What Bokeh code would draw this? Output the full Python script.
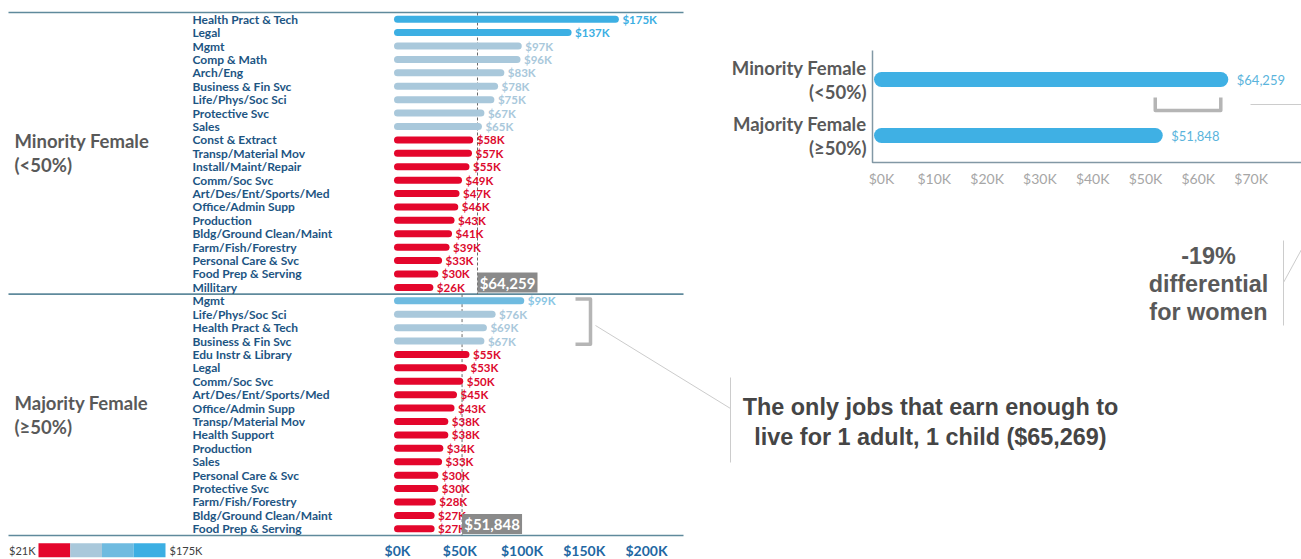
from bokeh.plotting import figure
from bokeh.models import Range1d, ColumnDataSource
from bokeh.transform import linear_cmap
from bokeh.core.properties import value
from bokeh.embed import file_html
from bokeh.resources import INLINE

# ---------------- data ----------------
group_names = ["Minority Female", "Majority Female"]
group_subs = ["(<50%)", "(\u226550%)"]

min_cats = ["Health Pract & Tech", "Legal", "Mgmt", "Comp & Math", "Arch/Eng",
            "Business & Fin Svc", "Life/Phys/Soc Sci", "Protective Svc", "Sales",
            "Const & Extract", "Transp/Material Mov", "Install/Maint/Repair",
            "Comm/Soc Svc", "Art/Des/Ent/Sports/Med", "Office/Admin Supp",
            "Production", "Bldg/Ground Clean/Maint", "Farm/Fish/Forestry",
            "Personal Care & Svc", "Food Prep & Serving", "Millitary"]
min_vals = [175, 137, 97, 96, 83, 78, 75, 67, 65, 58, 57, 55, 49, 47, 46, 43, 41, 39, 33, 30, 26]

maj_cats = ["Mgmt", "Life/Phys/Soc Sci", "Health Pract & Tech", "Business & Fin Svc",
            "Edu Instr & Library", "Legal", "Comm/Soc Svc", "Art/Des/Ent/Sports/Med",
            "Office/Admin Supp", "Transp/Material Mov", "Health Support", "Production",
            "Sales", "Personal Care & Svc", "Protective Svc", "Farm/Fish/Forestry",
            "Bldg/Ground Clean/Maint", "Food Prep & Serving"]
maj_vals = [99, 76, 69, 67, 55, 53, 50, 45, 43, 38, 38, 34, 33, 30, 30, 28, 27, 27]

group_avgs = [64259, 51848]          # dollars
living_wage = 65269                  # 1 adult, 1 child

left_ticks = [0, 50, 100, 150, 200]
left_tick_labels = ["$0K", "$50K", "$100K", "$150K", "$200K"]
right_ticks = [0, 10, 20, 30, 40, 50, 60, 70]
right_tick_labels = ["$0K", "$10K", "$20K", "$30K", "$40K", "$50K", "$60K", "$70K"]
legend_low, legend_high = 21, 175

# ---------------- styling / layout ----------------
W, H = 1301, 559
L_ZERO, L_SCALE = 397.0, 1.245      # px of $0 and px per $1K, left chart
ROW, TOP = 13.41, 12.0              # row pitch and top line, left chart
R_ZERO, R_SCALE = 881.0, 5.28       # right chart
R_BAND, R_TOP = 56.0, 51.0

BAR_PAL = ["#e4062c", "#a9c8db", "#6fbbe0", "#3cafe3"]
TXT_PAL = ["#dc0a2e", "#a9c8db", "#8ac6e4", "#3cafe3"]
SEP_COLOR = "#5f8a9c"
FONT = value("Lato")
ARIAL = value("Liberation Sans")

p = figure(width=W, height=H, title=None, toolbar_location=None, output_backend="svg",
           x_axis_type=None, y_axis_type=None, min_border=0, outline_line_color=None,
           x_range=Range1d(-L_ZERO / L_SCALE, (W - L_ZERO) / L_SCALE),
           y_range=Range1d((H - TOP) / ROW, -TOP / ROW))
p.extra_x_ranges = {"r": Range1d(-R_ZERO / R_SCALE, (W - R_ZERO) / R_SCALE),
                    "px": Range1d(0, W)}
p.extra_y_ranges = {"ry": Range1d((H - R_TOP) / R_BAND, -R_TOP / R_BAND),
                    "py": Range1d(H, 0)}
p.background_fill_color = "white"
p.border_fill_color = "white"

n_min, n_maj = len(min_cats), len(maj_cats)
n_all = n_min + n_maj
x_left = p.x_range.start

cats = min_cats + maj_cats
vals = min_vals + maj_vals
rows = [i + 0.5 for i in range(n_all)]
src = ColumnDataSource(dict(cat=cats, val=vals, row=rows,
                            label=["${}K".format(v) for v in vals]))

# section separators
bounds = [0, n_min, n_all]
p.segment(x0=[8] * 3, x1=[683] * 3, y0=bounds, y1=bounds, x_range_name="px",
          line_color=SEP_COLOR, line_width=1.6)

# average dashed lines
avg_k = [a / 1000 for a in group_avgs]
p.segment(x0=avg_k, x1=avg_k, y0=[0, n_min], y1=[n_min, n_all],
          line_color="#6a6a6a", line_width=1, line_dash="3 2")

# bars
p.segment(x0=0, y0="row", x1="val", y1="row", source=src, line_width=7, line_cap="round",
          line_color=linear_cmap("val", BAR_PAL, legend_low, legend_high))
p.text(x="val", y="row", text="label", source=src, x_offset=7, text_baseline="middle",
       text_font=FONT, text_font_style="bold", text_font_size="11.5px",
       text_color=linear_cmap("val", TXT_PAL, legend_low, legend_high))

# category labels
p.text(x=x_left, y="row", text="cat", source=src, x_offset=192, text_baseline="middle",
       text_font=FONT, text_font_style="bold", text_font_size="12px", text_color="#1d5583")

# section labels
mids = [n_min / 2, n_min + n_maj / 2]
p.text(x=[x_left] * 2, y=mids, text=group_names, x_offset=14, y_offset=-12,
       text_baseline="middle", text_font=FONT, text_font_style="bold",
       text_font_size="18.5px", text_color="#595959")
p.text(x=[x_left] * 2, y=mids, text=group_subs, x_offset=14, y_offset=12,
       text_baseline="middle", text_font=FONT, text_font_style="bold",
       text_font_size="18.5px", text_color="#595959")

# average call-out boxes
box_w, box_h, box_gap = 60 / L_SCALE, 20 / ROW, 1.6 / ROW
p.quad(left=avg_k, right=[a + box_w for a in avg_k],
       top=[n_min - box_gap - box_h, n_all - box_gap - box_h],
       bottom=[n_min - box_gap, n_all - box_gap],
       fill_color="#8a8a8a", line_color=None)
p.text(x=[a + box_w / 2 for a in avg_k], y=[n_min - box_gap - box_h / 2, n_all - box_gap - box_h / 2],
       text=["${:,}".format(a) for a in group_avgs], text_align="center", text_baseline="middle",
       text_font=FONT, text_font_style="bold", text_font_size="15px", text_color="white")

# left x tick labels
p.text(x=left_ticks, y=[n_all] * len(left_ticks), y_offset=15, text=left_tick_labels,
       text_align="center", text_baseline="middle", text_font=FONT, text_font_style="bold",
       text_font_size="14px", text_color="#1f68a3")

# colour legend
seg = (165 - 38) / len(BAR_PAL)
p.quad(left=[38 + i * seg for i in range(len(BAR_PAL))],
       right=[38 + (i + 1) * seg for i in range(len(BAR_PAL))],
       top=542.7, bottom=556.7, fill_color=BAR_PAL, line_color=None,
       x_range_name="px", y_range_name="py")
p.text(x=[35, 169], y=[549.5, 549.5], text=["${}K".format(legend_low), "${}K".format(legend_high)],
       text_align=["right", "left"], text_baseline="middle", text_font=FONT,
       text_font_size="11px", text_color="#404040", x_range_name="px", y_range_name="py")

# bracket around the jobs above living wage (majority female)
n_above = sum(1 for v in maj_vals if v * 1000 > living_wage)
b_top, b_bot = n_min + 5 / ROW, n_min + n_above - 3.5 / ROW
p.multi_line(xs=[[575, 590, 590, 575]], ys=[[b_top, b_top, b_bot, b_bot]], x_range_name="px",
             line_color="#b5b5b5", line_width=3.5, line_join="round")
p.multi_line(xs=[[595, 730], [730, 730]], ys=[[325, 408], [377, 462]],
             x_range_name="px", y_range_name="py", line_color="#cccccc", line_width=1)
p.text(x=[930, 930], y=[406, 436],
       text=["The only jobs that earn enough to",
             "live for 1 adult, 1 child (${:,})".format(living_wage)],
       text_align="center", text_baseline="middle", text_font=ARIAL, text_font_style="bold",
       text_font_size="23.4px", text_color="#454545", x_range_name="px", y_range_name="py")

# ---------------- right summary chart ----------------
r_vals = [a / 1000 for a in group_avgs]
r_rows = [i + 0.5 for i in range(len(group_names))]
p.segment(x0=0, x1=r_vals, y0=r_rows, y1=r_rows, line_width=15, line_cap="round",
          line_color="#3fb0e4", x_range_name="r", y_range_name="ry")
p.text(x=r_vals, y=r_rows, text=["${:,}".format(a) for a in group_avgs], x_offset=16,
       text_baseline="middle", text_font=FONT, text_font_size="13px", text_color="#5ab4dc",
       x_range_name="r", y_range_name="ry")
p.text(x=[0, 0], y=r_rows, text=group_names, x_offset=-15, y_offset=-12, text_align="right",
       text_baseline="middle", text_font=FONT, text_font_style="bold", text_font_size="18.5px",
       text_color="#595959", x_range_name="r", y_range_name="ry")
p.text(x=[0, 0], y=r_rows, text=group_subs, x_offset=-15, y_offset=12, text_align="right",
       text_baseline="middle", text_font=FONT, text_font_style="bold", text_font_size="18.5px",
       text_color="#595959", x_range_name="r", y_range_name="ry")
# axes lines
p.multi_line(xs=[[872, 872, 1301]], ys=[[50, 162, 162]], x_range_name="px", y_range_name="py",
             line_color="#8298a5", line_width=1.5)
p.text(x=right_ticks, y=[178] * len(right_ticks), text=right_tick_labels, text_align="center",
       text_baseline="middle", text_font=FONT, text_font_size="14px", text_color="#a6a6a6",
       x_range_name="r", y_range_name="py")
# differential bracket
p.multi_line(xs=[[r_vals[1], r_vals[1], r_vals[0], r_vals[0]]], ys=[[97, 110, 110, 97]],
             x_range_name="r", y_range_name="py", line_color="#b5b5b5", line_width=3.5,
             line_join="round")
p.multi_line(xs=[[1250, 1301], [1283, 1283], [1283, 1301]], ys=[[104, 104], [240, 325], [282, 249]],
             x_range_name="px", y_range_name="py", line_color="#cccccc", line_width=1)
pct = round((group_avgs[1] - group_avgs[0]) / group_avgs[0] * 100)
p.text(x=[1208] * 3, y=[255, 283, 311], text=["{}%".format(pct), "differential", "for women"],
       text_align="center", text_baseline="middle", text_font=ARIAL, text_font_style="bold",
       text_font_size="23.4px", text_color="#595959", x_range_name="px", y_range_name="py")

open("out.html", "w").write(file_html(p, INLINE))
